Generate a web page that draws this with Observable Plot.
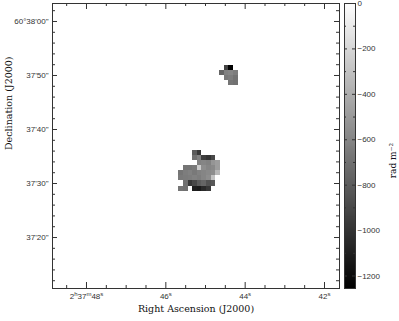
<!DOCTYPE html>
<html><head><meta charset="utf-8">
<script src="https://cdn.jsdelivr.net/npm/d3@7"></script>
<script src="https://cdn.jsdelivr.net/npm/@observablehq/plot@0.6"></script>
<style>
body{margin:0;background:#fff;}
#wrap{position:relative;width:399px;height:321px;overflow:hidden;}
#wrap svg{position:absolute;top:0;overflow:visible;}
</style></head><body><div id="wrap"></div>
<script>
// ---- axis data ----
const raDomain = [48.857, 41.622];          // RA seconds past 2h37m (decreasing to the right)
const decDomain = [10.56, 63.33];           // Dec arcsec past 60°37'
const raMajor = [48, 46, 44, 42];
const raMajorLabels = ["2^h37^m48^s", "46^s", "44^s", "42^s"];
const raMinor = [48.5, 47.5, 47, 46.5, 45.5, 45, 44.5, 43.5, 43, 42.5];
const decMajor = [60, 50, 40, 30, 20];
const decMajorLabels = ["60°38'00\"", "37'50\"", "37'40\"", "37'30\"", "37'20\""];
const decMinor = [12, 14, 16, 18, 22, 24, 26, 28, 32, 34, 36, 38, 42, 44, 46, 48, 52, 54, 56, 58, 62];
const rmDomain = [-1255, 0];
const rmMajor = [0, -200, -400, -600, -800, -1000, -1200];
const rmMinor = [-100, -300, -500, -700, -900, -1100];

// ---- rotation-measure pixels (rad m^-2) ----
const cellRA = 0.116;     // pixel width, seconds of RA
const cellDec = 0.94;     // pixel height, arcsec
const northRA0 = 44.64, northDec0 = 51.91;
const northRows = [
  [null, -930, -1250, null],
  [-760, -620, -600, -640],
  [null, -660, -640, -690],
  [null, null, -680, -700]
];
const southRA0 = 45.673, southDec0 = 36.11;
const southRows = [
  [null, null, null, -800, -980, null, null, null, null, null],
  [null, null, null, -700, -620, -950, -1000, -900, null, null],
  [null, null, null, null, -620, -600, -620, -520, -480, null],
  [null, -680, -680, -660, -250, -560, -600, -580, -480, null],
  [-680, -640, -620, -660, -620, -600, -580, -560, -350, null],
  [-660, -650, -640, -620, -640, -600, -560, -300, null, null],
  [null, -700, -980, -900, -800, -760, -850, -820, null, null],
  [-680, -700, null, -1100, -1120, -1050, -980, null, null, null]
];

function toCells(ra0, dec0, rows) {
  const out = [];
  rows.forEach((row, j) => row.forEach((v, i) => {
    if (v == null) return;
    out.push({x1: ra0 - i * cellRA, x2: ra0 - (i + 1) * cellRA,
              y1: dec0 - j * cellDec, y2: dec0 - (j + 1) * cellDec, v});
  }));
  return out;
}
const cells = toCells(northRA0, northDec0, northRows).concat(toCells(southRA0, southDec0, southRows));

const W = 399, H = 321;
const mL = 52, mR = 60, mT = 3, mB = 33;
const innerW = W - mL - mR, innerH = H - mT - mB;
const ink = "#333";
const tickFont = "'Liberation Sans', sans-serif";
const titleFont = "'DejaVu Serif', serif";
const colorOpts = {type: "linear", domain: rmDomain, range: ["#000", "#fff"], interpolate: "rgb"};

const main = Plot.plot({
  width: W, height: H,
  marginLeft: mL, marginRight: mR, marginTop: mT, marginBottom: mB,
  x: {domain: raDomain, axis: null},
  y: {domain: decDomain, axis: null},
  color: colorOpts,
  style: {background: "transparent", fontFamily: tickFont},
  marks: [
    Plot.rect(cells, {x1: "x1", x2: "x2", y1: "y1", y2: "y2", fill: "v", shapeRendering: "crispEdges"}),
    Plot.frame({stroke: ink}),
    // bottom & top ticks
    Plot.tickX(raMinor, {x: d => d, insetTop: innerH - 3, stroke: ink}),
    Plot.tickX(raMinor, {x: d => d, insetBottom: innerH - 3, stroke: ink}),
    Plot.tickX(raMajor, {x: d => d, insetTop: innerH - 6, stroke: ink}),
    Plot.tickX(raMajor, {x: d => d, insetBottom: innerH - 6, stroke: ink}),
    // left & right ticks
    Plot.tickY(decMinor, {y: d => d, insetRight: innerW - 3, stroke: ink}),
    Plot.tickY(decMinor, {y: d => d, insetLeft: innerW - 3, stroke: ink}),
    Plot.tickY(decMajor, {y: d => d, insetRight: innerW - 5, stroke: ink}),
    Plot.tickY(decMajor, {y: d => d, insetLeft: innerW - 5, stroke: ink}),
    // tick labels
    Plot.text(raMajor, {x: d => d, text: (d, i) => raMajorLabels[i], frameAnchor: "bottom", dy: 10,
      fontSize: 8, fill: ink}),
    Plot.text(decMajor, {y: d => d, text: (d, i) => decMajorLabels[i], frameAnchor: "left", textAnchor: "end",
      dx: -4, fontSize: 8, fill: ink}),
    // titles
    Plot.text(["Right Ascension (J2000)"], {frameAnchor: "bottom", dy: 23, fontSize: 9.5,
      fontFamily: titleFont, fill: "#111"}),
    Plot.text(["Declination (J2000)"], {frameAnchor: "left", rotate: -90, dx: -44, dy: 4, fontSize: 9.5,
      fontFamily: titleFont, fill: "#111"})
  ]
});

// superscript unit letters (h, m, s) in RA labels
d3.select(main).selectAll("text").each(function () {
  const t = this.textContent;
  if (!t.includes("^")) return;
  this.textContent = "";
  const sel = d3.select(this);
  const parts = t.split(/\^(.)/);   // normal, sup, normal, sup ...
  let raised = false;
  parts.forEach((p, k) => {
    if (!p) return;
    if (k % 2 === 1) {
      sel.append("tspan").attr("font-size", 6).attr("dy", -3).text(p);
      raised = true;
    } else {
      const ts = sel.append("tspan").text(p);
      if (raised) { ts.attr("dy", 3); raised = false; }
    }
  });
});

// colour bar
const cbW = 11, cbLeft = 340, cbML = 4, cbMR = W - cbLeft - cbML - cbW;
const rmStep = 5;
const rmSteps = d3.range(rmDomain[0], rmDomain[1], rmStep);
const bar = Plot.plot({
  width: W - cbLeft, height: H,
  marginLeft: cbML, marginRight: cbMR, marginTop: mT, marginBottom: mB,
  x: {domain: [0, 1], axis: null},
  y: {domain: rmDomain, axis: null},
  color: colorOpts,
  style: {background: "transparent", fontFamily: tickFont},
  marks: [
    Plot.rect(rmSteps, {x1: 0, x2: 1, y1: d => d, y2: d => Math.min(d + rmStep + 1, rmDomain[1]),
      fill: d => d + rmStep / 2, shapeRendering: "crispEdges"}),
    Plot.frame({stroke: ink}),
    Plot.tickY(rmMinor, {y: d => d, insetRight: cbW - 2, stroke: ink}),
    Plot.tickY(rmMinor, {y: d => d, insetLeft: cbW - 2, stroke: ink}),
    Plot.tickY(rmMajor, {y: d => d, insetRight: cbW - 3, stroke: ink}),
    Plot.tickY(rmMajor, {y: d => d, insetLeft: cbW - 3, stroke: ink}),
    Plot.text(rmMajor, {y: d => d, text: d => d === 0 ? "0" : "−" + Math.abs(d), frameAnchor: "right",
      textAnchor: "start", dx: 2, fontSize: 8, fill: ink}),
    Plot.text(["rad m⁻²"], {frameAnchor: "right", rotate: -90, dx: 38, dy: -3, fontSize: 9,
      fontFamily: titleFont, fill: "#112"})
  ]
});

const wrap = document.getElementById("wrap");
main.style.left = "0px";
bar.style.left = cbLeft + "px";
wrap.appendChild(main);
wrap.appendChild(bar);
</script>
</body></html>
